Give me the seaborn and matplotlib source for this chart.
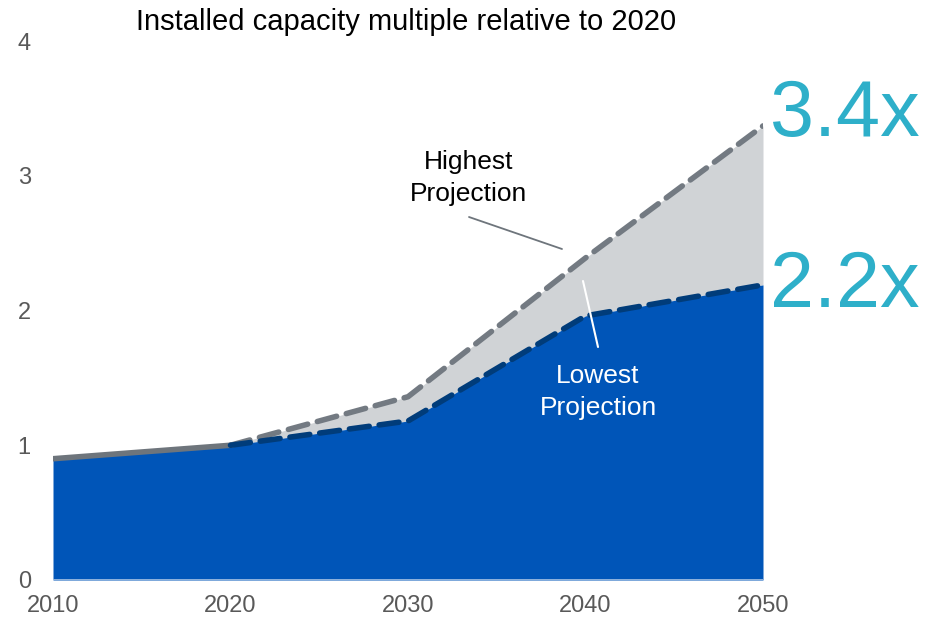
import matplotlib
matplotlib.use("Agg")
import matplotlib.pyplot as plt
import seaborn as sns
import pandas as pd
import numpy as np

# Data
years_hist = [2010, 2020]
hist_values = [0.90, 1.00]
years_proj = [2020, 2030, 2040, 2050]
high_values = [1.00, 1.36, 2.39, 3.37]
low_values = [1.00, 1.18, 1.96, 2.19]
years_all = [2010, 2020, 2030, 2040, 2050]
low_all = [0.90, 1.00, 1.18, 1.96, 2.19]
x_ticks = [2010, 2020, 2030, 2040, 2050]
y_ticks = [0, 1, 2, 3, 4]
title = "Installed capacity multiple relative to 2020"
high_label = "3.4x"
low_label = "2.2x"

sns.set_theme(style="white")
plt.rcParams['font.family'] = ['Liberation Sans', 'DejaVu Sans']

fig = plt.figure(figsize=(9.32, 6.2), dpi=100)
ax = fig.add_axes([53/932, 1-580/620, (763-53)/932, (580-41)/620])

BLUE = "#0055B8"
GRAYFILL = "#D0D3D6"
HIGHLINE = "#737A82"
LOWLINE = "#003C7A"
TEAL = "#2EAFC9"

ax.fill_between(years_proj, low_values, high_values, color=GRAYFILL, lw=0, zorder=1)
ax.fill_between(years_all, 0, low_all, color=BLUE, lw=0, zorder=2)
ax.axhline(0, color="#A9C3E3", lw=1.2, zorder=3)

df_hist = pd.DataFrame({"year": years_hist, "v": hist_values})
df_high = pd.DataFrame({"year": years_proj, "v": high_values})
df_low = pd.DataFrame({"year": years_proj, "v": low_values})

sns.lineplot(data=df_hist, x="year", y="v", ax=ax, color="#6E757C", lw=4, zorder=4,
             solid_capstyle="round")
sns.lineplot(data=df_high, x="year", y="v", ax=ax, color=HIGHLINE, lw=4, zorder=4)
sns.lineplot(data=df_low, x="year", y="v", ax=ax, color=LOWLINE, lw=4, zorder=5)
lines = [ln for ln in ax.get_lines() if ln.get_color() in (HIGHLINE, LOWLINE)]
for ln in lines:
    ln.set_dashes([3.6, 1.8])
    ln.set_dash_capstyle("round")
    ln.set_solid_joinstyle("round")

ax.set_xlim(2010, 2050)
ax.set_ylim(0, 4)
ax.set_xticks(x_ticks)
ax.set_yticks(y_ticks)
ax.set_xlabel("")
ax.set_ylabel("")
for s in ax.spines.values():
    s.set_visible(False)
ax.tick_params(axis="both", length=0, labelsize=17, colors="#595959")
ax.tick_params(axis="y", pad=16)
ax.tick_params(axis="x", pad=11)

fig.text(406/932, 1-22/620, title, ha="center", va="center", fontsize=21, color="black")

def xd(px):
    return 2010 + (px - 53) / (763 - 53) * 40

def yd(py):
    return (580 - py) / (580 - 41) * 4

ax.text(2050.4, yd(116), high_label, ha="left", va="center", fontsize=57, color=TEAL)
ax.text(2050.4, yd(287), low_label, ha="left", va="center", fontsize=57, color=TEAL)

ax.text(xd(469), yd(178), "Highest\nProjection", ha="center", va="center",
        fontsize=19, color="black", linespacing=1.4, zorder=6)
ax.plot([xd(469), xd(562)], [yd(217), yd(249)], color="#6E757C", lw=1.3, zorder=6)
ax.text(xd(598), yd(392), "Lowest\nProjection", ha="center", va="center",
        fontsize=19, color="white", linespacing=1.4, zorder=6)
ax.plot([xd(583), xd(598)], [yd(281), yd(347)], color="white", lw=1.5, zorder=6)

fig.savefig("out.png", dpi=100)
